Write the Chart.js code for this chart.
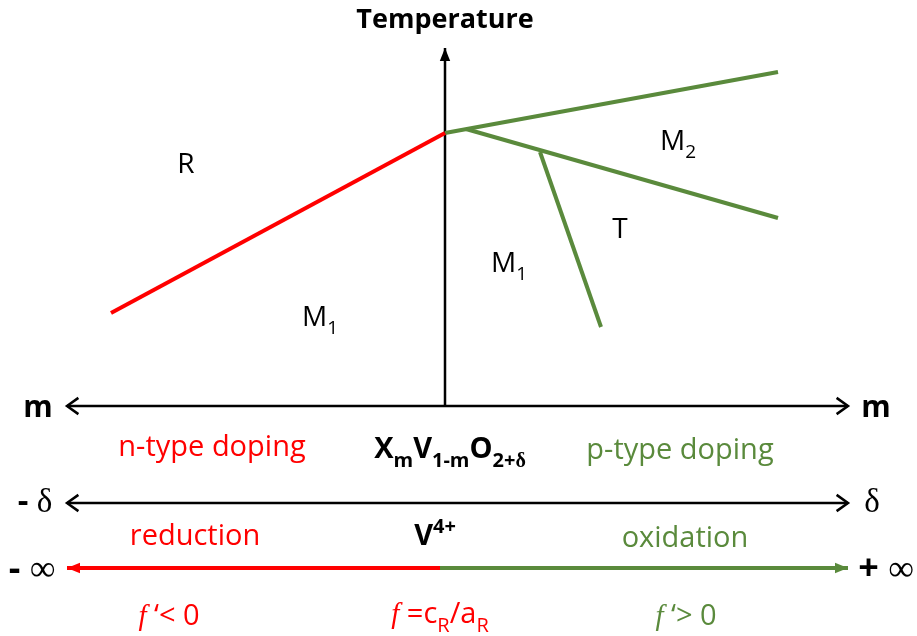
<!DOCTYPE html>
<html>
<head>
<meta charset="utf-8">
<script src="https://cdn.jsdelivr.net/npm/chart.js@4.4.0/dist/chart.umd.min.js"></script>
<style>
  html, body { margin: 0; padding: 0; background: #fff; }
  #wrap { width: 917px; height: 636px; }
</style>
</head>
<body>
<div id="wrap"><canvas id="phaseChart"></canvas></div>
<script>
const RED = "#ff0000";
const GREEN = "#5a8a3c";

// phase boundaries (x = doping m, y = temperature, arbitrary units)
const rM1Boundary = [{ x: -3.34, y: 0.93 }, { x: 0, y: 2.73 }];
const rM2Boundary = [{ x: 0, y: 2.73 }, { x: 3.33, y: 3.34 }];
const m2TBoundary = [{ x: 0.21, y: 2.77 }, { x: 3.33, y: 1.88 }];
const m1TBoundary = [{ x: 0.95, y: 2.54 }, { x: 1.56, y: 0.79 }];

// axes of the scheme
const tempAxis = [{ x: 0, y: 0 }, { x: 0, y: 3.58 }];
const mAxis = [{ x: -3.78, y: 0 }, { x: 4.03, y: 0 }];
const deltaAxis = [{ x: -3.78, y: -0.97 }, { x: 4.03, y: -0.97 }];
const fAxisNeg = [{ x: -3.78, y: -1.62 }, { x: -0.05, y: -1.62 }];
const fAxisPos = [{ x: -0.05, y: -1.62 }, { x: 4.03, y: -1.62 }];

// text labels: position in chart units + rich text parts
const labels = [
  { x: 0, y: 3.88, color: "#000", size: 27, bold: true, parts: [{ t: "Temperature" }] },
  { x: -2.59, y: 2.43, color: "#000", size: 28, parts: [{ t: "R" }] },
  { x: -1.25, y: 0.90, color: "#000", size: 28, parts: [{ t: "M" }, { t: "1", sub: true }] },
  { x: 0.64, y: 1.44, color: "#000", size: 28, parts: [{ t: "M" }, { t: "1", sub: true }] },
  { x: 1.75, y: 1.78, color: "#000", size: 28, parts: [{ t: "T" }] },
  { x: 2.33, y: 2.66, color: "#000", size: 28, parts: [{ t: "M" }, { t: "2", sub: true }] },
  { x: -4.07, y: 0, color: "#000", size: 30, bold: true, parts: [{ t: "m" }] },
  { x: 4.31, y: 0, color: "#000", size: 30, bold: true, parts: [{ t: "m" }] },
  { x: -2.33, y: -0.40, color: RED, size: 29, parts: [{ t: "n-type doping" }] },
  { x: 0.05, y: -0.42, color: "#000", size: 29, bold: true,
    parts: [{ t: "X" }, { t: "m", sub: true }, { t: "V" }, { t: "1-m", sub: true }, { t: "O" },
            { t: "2+", sub: true }, { t: "δ", sub: true, serif: true }] },
  { x: 2.35, y: -0.43, color: GREEN, size: 29, parts: [{ t: "p-type doping" }] },
  { x: -4.10, y: -0.94, color: "#000", size: 33, parts: [{ t: "- ", bold: true }, { t: "δ", serif: true }] },
  { x: 4.27, y: -0.94, color: "#000", size: 33, parts: [{ t: "δ", serif: true }] },
  { x: -2.50, y: -1.29, color: RED, size: 29, parts: [{ t: "reduction" }] },
  { x: -0.10, y: -1.29, color: "#000", size: 29, bold: true, parts: [{ t: "V" }, { t: "4+", sup: true }] },
  { x: 2.40, y: -1.31, color: GREEN, size: 29, parts: [{ t: "oxidation" }] },
  { x: -4.13, y: -1.61, color: "#000", size: 36, parts: [{ t: "- ", bold: true }, { t: "∞", serif: true }] },
  { x: 4.41, y: -1.61, color: "#000", size: 36, parts: [{ t: "+ ", bold: true }, { t: "∞", serif: true }] },
  { x: -2.76, y: -2.09, color: RED, size: 29,
    parts: [{ t: "f", italic: true, serif: true }, { t: " ‘< 0" }] },
  { x: -0.05, y: -2.07, color: RED, size: 29,
    parts: [{ t: "f", italic: true, serif: true }, { t: " =c" }, { t: "R", sub: true }, { t: "/a" }, { t: "R", sub: true }] },
  { x: 2.41, y: -2.09, color: GREEN, size: 29,
    parts: [{ t: "f", italic: true, serif: true }, { t: " ‘> 0" }] },
];

// arrow heads: which dataset, which end, open chevron or filled
const arrowHeads = [
  { data: tempAxis, at: 1, filled: true, color: "#000" },
  { data: mAxis, at: 0, filled: false, color: "#000" },
  { data: mAxis, at: 1, filled: false, color: "#000" },
  { data: deltaAxis, at: 0, filled: false, color: "#000" },
  { data: deltaAxis, at: 1, filled: false, color: "#000" },
  { data: fAxisNeg, at: 0, filled: true, color: RED },
  { data: fAxisPos, at: 1, filled: true, color: GREEN },
];

function line(data, color, width) {
  return {
    data: data,
    showLine: true,
    borderColor: color,
    borderWidth: width,
    pointRadius: 0,
    borderCapStyle: "butt",
    tension: 0,
  };
}

function fontFor(label, part) {
  const size = part.sub || part.sup ? Math.round(label.size * 0.68) : label.size;
  const bold = part.bold !== undefined ? part.bold : label.bold;
  const family = part.serif ? '"Liberation Serif", serif' : '"Open Sans", sans-serif';
  return (part.italic ? "italic " : "") + (bold ? "bold " : "") + size + "px " + family;
}

const schemePlugin = {
  id: "scheme",
  afterDatasetsDraw(chart) {
    const ctx = chart.ctx;
    const xs = chart.scales.x;
    const ys = chart.scales.y;
    ctx.save();

    arrowHeads.forEach((a) => {
      const tip = a.data[a.at];
      const from = a.data[1 - a.at];
      const tx = xs.getPixelForValue(tip.x), ty = ys.getPixelForValue(tip.y);
      const fx = xs.getPixelForValue(from.x), fy = ys.getPixelForValue(from.y);
      const ang = Math.atan2(ty - fy, tx - fx);
      const len = a.filled ? 14 : 14;
      const spread = a.filled ? 0.38 : 0.62;
      const p1 = [tx - len * Math.cos(ang - spread), ty - len * Math.sin(ang - spread)];
      const p2 = [tx - len * Math.cos(ang + spread), ty - len * Math.sin(ang + spread)];
      ctx.strokeStyle = a.color;
      ctx.fillStyle = a.color;
      if (a.filled) {
        ctx.beginPath();
        ctx.moveTo(tx, ty);
        ctx.lineTo(p1[0], p1[1]);
        ctx.lineTo(p2[0], p2[1]);
        ctx.closePath();
        ctx.fill();
      } else {
        ctx.lineWidth = 2.5;
        ctx.lineJoin = "miter";
        ctx.beginPath();
        ctx.moveTo(p1[0], p1[1]);
        ctx.lineTo(tx, ty);
        ctx.lineTo(p2[0], p2[1]);
        ctx.stroke();
      }
    });

    labels.forEach((lb) => {
      let total = 0;
      const widths = lb.parts.map((p) => {
        ctx.font = fontFor(lb, p);
        const w = ctx.measureText(p.t).width;
        total += w;
        return w;
      });
      let x = xs.getPixelForValue(lb.x) - total / 2;
      const base = ys.getPixelForValue(lb.y) + lb.size * 0.36;
      ctx.fillStyle = lb.color;
      ctx.textBaseline = "alphabetic";
      ctx.textAlign = "left";
      lb.parts.forEach((p, i) => {
        ctx.font = fontFor(lb, p);
        let dy = 0;
        if (p.sub) dy = lb.size * 0.28;
        if (p.sup) dy = -lb.size * 0.42;
        ctx.fillText(p.t, x, base + dy);
        x += widths[i];
      });
    });
    ctx.restore();
  },
};

new Chart(document.getElementById("phaseChart"), {
  type: "scatter",
  data: {
    datasets: [
      line(rM1Boundary, RED, 4),
      line(rM2Boundary, GREEN, 4),
      line(m2TBoundary, GREEN, 4),
      line(m1TBoundary, GREEN, 4),
      line(tempAxis, "#000", 2.5),
      line(mAxis, "#000", 2.5),
      line(deltaAxis, "#000", 2.5),
      line(fAxisNeg, RED, 4),
      line(fAxisPos, GREEN, 4),
    ],
  },
  options: {
    responsive: true,
    maintainAspectRatio: false,
    animation: false,
    layout: { padding: 0 },
    plugins: { legend: { display: false }, tooltip: { enabled: false } },
    scales: {
      x: { type: "linear", display: false, min: -4.45, max: 4.72 },
      y: { type: "linear", display: false, min: -2.30, max: 4.06 },
    },
  },
  plugins: [schemePlugin],
});
</script>
</body>
</html>
